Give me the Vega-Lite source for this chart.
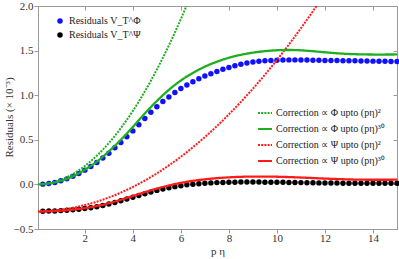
{
  "$schema": "https://vega.github.io/schema/vega-lite/v6.json",
  "width": 359,
  "height": 223,
  "autosize": {"type": "none"},
  "padding": {"left": 38, "top": 6, "right": 2, "bottom": 30},
  "background": "white",
  "config": {
    "font": "Liberation Serif",
    "view": {"stroke": "#9a9a9a"},
    "axis": {
      "labelFont": "Liberation Serif",
      "titleFont": "Liberation Serif",
      "labelFontSize": 11,
      "titleFontSize": 11,
      "titleFontWeight": "normal",
      "labelColor": "#333333",
      "titleColor": "#333333",
      "domainColor": "#9a9a9a",
      "tickColor": "#9a9a9a",
      "grid": false,
      "labelFlush": false
    },
    "legend": {"labelFont": "Liberation Serif", "labelFontSize": 10, "labelColor": "#222222", "padding": 0}
  },
  "datasets": {
    "pts": [
      {"x":0.25,"v":0.003,"s":"Residuals V_T^Φ"},{"x":0.5,"v":0.01,"s":"Residuals V_T^Φ"},{"x":0.75,"v":0.022,"s":"Residuals V_T^Φ"},{"x":1,"v":0.04,"s":"Residuals V_T^Φ"},
      {"x":1.25,"v":0.062,"s":"Residuals V_T^Φ"},{"x":1.5,"v":0.09,"s":"Residuals V_T^Φ"},{"x":1.75,"v":0.122,"s":"Residuals V_T^Φ"},{"x":2,"v":0.16,"s":"Residuals V_T^Φ"},
      {"x":2.25,"v":0.2,"s":"Residuals V_T^Φ"},{"x":2.5,"v":0.245,"s":"Residuals V_T^Φ"},{"x":2.75,"v":0.295,"s":"Residuals V_T^Φ"},{"x":3,"v":0.35,"s":"Residuals V_T^Φ"},
      {"x":3.25,"v":0.41,"s":"Residuals V_T^Φ"},{"x":3.5,"v":0.47,"s":"Residuals V_T^Φ"},{"x":3.75,"v":0.535,"s":"Residuals V_T^Φ"},{"x":4,"v":0.6,"s":"Residuals V_T^Φ"},
      {"x":4.25,"v":0.67,"s":"Residuals V_T^Φ"},{"x":4.5,"v":0.74,"s":"Residuals V_T^Φ"},{"x":4.75,"v":0.81,"s":"Residuals V_T^Φ"},{"x":5,"v":0.87,"s":"Residuals V_T^Φ"},
      {"x":5.25,"v":0.93,"s":"Residuals V_T^Φ"},{"x":5.5,"v":0.98,"s":"Residuals V_T^Φ"},{"x":5.75,"v":1.03,"s":"Residuals V_T^Φ"},{"x":6,"v":1.075,"s":"Residuals V_T^Φ"},
      {"x":6.25,"v":1.115,"s":"Residuals V_T^Φ"},{"x":6.5,"v":1.15,"s":"Residuals V_T^Φ"},{"x":6.75,"v":1.185,"s":"Residuals V_T^Φ"},{"x":7,"v":1.215,"s":"Residuals V_T^Φ"},
      {"x":7.25,"v":1.24,"s":"Residuals V_T^Φ"},{"x":7.5,"v":1.265,"s":"Residuals V_T^Φ"},{"x":7.75,"v":1.29,"s":"Residuals V_T^Φ"},{"x":8,"v":1.31,"s":"Residuals V_T^Φ"},
      {"x":8.25,"v":1.33,"s":"Residuals V_T^Φ"},{"x":8.5,"v":1.347,"s":"Residuals V_T^Φ"},{"x":8.75,"v":1.36,"s":"Residuals V_T^Φ"},{"x":9,"v":1.372,"s":"Residuals V_T^Φ"},
      {"x":9.25,"v":1.38,"s":"Residuals V_T^Φ"},{"x":9.5,"v":1.386,"s":"Residuals V_T^Φ"},{"x":9.75,"v":1.39,"s":"Residuals V_T^Φ"},{"x":10,"v":1.393,"s":"Residuals V_T^Φ"},
      {"x":10.25,"v":1.395,"s":"Residuals V_T^Φ"},{"x":10.5,"v":1.396,"s":"Residuals V_T^Φ"},{"x":10.75,"v":1.396,"s":"Residuals V_T^Φ"},{"x":11,"v":1.395,"s":"Residuals V_T^Φ"},
      {"x":11.25,"v":1.394,"s":"Residuals V_T^Φ"},{"x":11.5,"v":1.393,"s":"Residuals V_T^Φ"},{"x":11.75,"v":1.392,"s":"Residuals V_T^Φ"},{"x":12,"v":1.39,"s":"Residuals V_T^Φ"},
      {"x":12.25,"v":1.389,"s":"Residuals V_T^Φ"},{"x":12.5,"v":1.388,"s":"Residuals V_T^Φ"},{"x":12.75,"v":1.387,"s":"Residuals V_T^Φ"},{"x":13,"v":1.386,"s":"Residuals V_T^Φ"},
      {"x":13.25,"v":1.385,"s":"Residuals V_T^Φ"},{"x":13.5,"v":1.384,"s":"Residuals V_T^Φ"},{"x":13.75,"v":1.383,"s":"Residuals V_T^Φ"},{"x":14,"v":1.382,"s":"Residuals V_T^Φ"},
      {"x":14.25,"v":1.381,"s":"Residuals V_T^Φ"},{"x":14.5,"v":1.38,"s":"Residuals V_T^Φ"},{"x":14.75,"v":1.379,"s":"Residuals V_T^Φ"},{"x":15,"v":1.378,"s":"Residuals V_T^Φ"},
      {"x":0.25,"v":-0.3,"s":"Residuals V_T^Ψ"},{"x":0.5,"v":-0.299,"s":"Residuals V_T^Ψ"},{"x":0.75,"v":-0.297,"s":"Residuals V_T^Ψ"},{"x":1,"v":-0.294,"s":"Residuals V_T^Ψ"},
      {"x":1.25,"v":-0.29,"s":"Residuals V_T^Ψ"},{"x":1.5,"v":-0.285,"s":"Residuals V_T^Ψ"},{"x":1.75,"v":-0.278,"s":"Residuals V_T^Ψ"},{"x":2,"v":-0.27,"s":"Residuals V_T^Ψ"},
      {"x":2.25,"v":-0.261,"s":"Residuals V_T^Ψ"},{"x":2.5,"v":-0.25,"s":"Residuals V_T^Ψ"},{"x":2.75,"v":-0.236,"s":"Residuals V_T^Ψ"},{"x":3,"v":-0.22,"s":"Residuals V_T^Ψ"},
      {"x":3.25,"v":-0.203,"s":"Residuals V_T^Ψ"},{"x":3.5,"v":-0.184,"s":"Residuals V_T^Ψ"},{"x":3.75,"v":-0.164,"s":"Residuals V_T^Ψ"},{"x":4,"v":-0.144,"s":"Residuals V_T^Ψ"},
      {"x":4.25,"v":-0.124,"s":"Residuals V_T^Ψ"},{"x":4.5,"v":-0.104,"s":"Residuals V_T^Ψ"},{"x":4.75,"v":-0.085,"s":"Residuals V_T^Ψ"},{"x":5,"v":-0.067,"s":"Residuals V_T^Ψ"},
      {"x":5.25,"v":-0.051,"s":"Residuals V_T^Ψ"},{"x":5.5,"v":-0.037,"s":"Residuals V_T^Ψ"},{"x":5.75,"v":-0.025,"s":"Residuals V_T^Ψ"},{"x":6,"v":-0.014,"s":"Residuals V_T^Ψ"},
      {"x":6.25,"v":-0.005,"s":"Residuals V_T^Ψ"},{"x":6.5,"v":0.002,"s":"Residuals V_T^Ψ"},{"x":6.75,"v":0.008,"s":"Residuals V_T^Ψ"},{"x":7,"v":0.013,"s":"Residuals V_T^Ψ"},
      {"x":7.25,"v":0.017,"s":"Residuals V_T^Ψ"},{"x":7.5,"v":0.02,"s":"Residuals V_T^Ψ"},{"x":7.75,"v":0.022,"s":"Residuals V_T^Ψ"},{"x":8,"v":0.024,"s":"Residuals V_T^Ψ"},
      {"x":8.25,"v":0.025,"s":"Residuals V_T^Ψ"},{"x":8.5,"v":0.026,"s":"Residuals V_T^Ψ"},{"x":8.75,"v":0.026,"s":"Residuals V_T^Ψ"},{"x":9,"v":0.026,"s":"Residuals V_T^Ψ"},
      {"x":9.25,"v":0.026,"s":"Residuals V_T^Ψ"},{"x":9.5,"v":0.025,"s":"Residuals V_T^Ψ"},{"x":9.75,"v":0.025,"s":"Residuals V_T^Ψ"},{"x":10,"v":0.024,"s":"Residuals V_T^Ψ"},
      {"x":10.25,"v":0.023,"s":"Residuals V_T^Ψ"},{"x":10.5,"v":0.022,"s":"Residuals V_T^Ψ"},{"x":10.75,"v":0.021,"s":"Residuals V_T^Ψ"},{"x":11,"v":0.02,"s":"Residuals V_T^Ψ"},
      {"x":11.25,"v":0.019,"s":"Residuals V_T^Ψ"},{"x":11.5,"v":0.018,"s":"Residuals V_T^Ψ"},{"x":11.75,"v":0.017,"s":"Residuals V_T^Ψ"},{"x":12,"v":0.016,"s":"Residuals V_T^Ψ"},
      {"x":12.25,"v":0.015,"s":"Residuals V_T^Ψ"},{"x":12.5,"v":0.015,"s":"Residuals V_T^Ψ"},{"x":12.75,"v":0.014,"s":"Residuals V_T^Ψ"},{"x":13,"v":0.014,"s":"Residuals V_T^Ψ"},
      {"x":13.25,"v":0.013,"s":"Residuals V_T^Ψ"},{"x":13.5,"v":0.013,"s":"Residuals V_T^Ψ"},{"x":13.75,"v":0.013,"s":"Residuals V_T^Ψ"},{"x":14,"v":0.012,"s":"Residuals V_T^Ψ"},
      {"x":14.25,"v":0.012,"s":"Residuals V_T^Ψ"},{"x":14.5,"v":0.012,"s":"Residuals V_T^Ψ"},{"x":14.75,"v":0.012,"s":"Residuals V_T^Ψ"},{"x":15,"v":0.012,"s":"Residuals V_T^Ψ"}
    ],
    "lns": [
      {"x":0,"v":0,"s":"Correction ∝ Φ upto (pη)²"},{"x":0.25,"v":0.003,"s":"Correction ∝ Φ upto (pη)²"},{"x":0.5,"v":0.013,"s":"Correction ∝ Φ upto (pη)²"},{"x":0.75,"v":0.029,"s":"Correction ∝ Φ upto (pη)²"},
      {"x":1,"v":0.052,"s":"Correction ∝ Φ upto (pη)²"},{"x":1.25,"v":0.08,"s":"Correction ∝ Φ upto (pη)²"},{"x":1.5,"v":0.116,"s":"Correction ∝ Φ upto (pη)²"},{"x":1.75,"v":0.158,"s":"Correction ∝ Φ upto (pη)²"},
      {"x":2,"v":0.206,"s":"Correction ∝ Φ upto (pη)²"},{"x":2.25,"v":0.261,"s":"Correction ∝ Φ upto (pη)²"},{"x":2.5,"v":0.322,"s":"Correction ∝ Φ upto (pη)²"},{"x":2.75,"v":0.389,"s":"Correction ∝ Φ upto (pη)²"},
      {"x":3,"v":0.464,"s":"Correction ∝ Φ upto (pη)²"},{"x":3.25,"v":0.544,"s":"Correction ∝ Φ upto (pη)²"},{"x":3.5,"v":0.631,"s":"Correction ∝ Φ upto (pη)²"},{"x":3.75,"v":0.724,"s":"Correction ∝ Φ upto (pη)²"},
      {"x":4,"v":0.824,"s":"Correction ∝ Φ upto (pη)²"},{"x":4.25,"v":0.93,"s":"Correction ∝ Φ upto (pη)²"},{"x":4.5,"v":1.043,"s":"Correction ∝ Φ upto (pη)²"},{"x":4.75,"v":1.162,"s":"Correction ∝ Φ upto (pη)²"},
      {"x":5,"v":1.288,"s":"Correction ∝ Φ upto (pη)²"},{"x":5.25,"v":1.419,"s":"Correction ∝ Φ upto (pη)²"},{"x":5.5,"v":1.558,"s":"Correction ∝ Φ upto (pη)²"},{"x":5.75,"v":1.703,"s":"Correction ∝ Φ upto (pη)²"},
      {"x":6,"v":1.854,"s":"Correction ∝ Φ upto (pη)²"},{"x":6.25,"v":2.012,"s":"Correction ∝ Φ upto (pη)²"},{"x":6.5,"v":2.176,"s":"Correction ∝ Φ upto (pη)²"},
      {"x":0,"v":0,"s":"Correction ∝ Φ upto (pη)³⁰"},{"x":0.5,"v":0.01,"s":"Correction ∝ Φ upto (pη)³⁰"},{"x":1,"v":0.04,"s":"Correction ∝ Φ upto (pη)³⁰"},{"x":1.5,"v":0.09,"s":"Correction ∝ Φ upto (pη)³⁰"},
      {"x":2,"v":0.165,"s":"Correction ∝ Φ upto (pη)³⁰"},{"x":2.5,"v":0.255,"s":"Correction ∝ Φ upto (pη)³⁰"},{"x":3,"v":0.37,"s":"Correction ∝ Φ upto (pη)³⁰"},{"x":3.5,"v":0.5,"s":"Correction ∝ Φ upto (pη)³⁰"},
      {"x":4,"v":0.645,"s":"Correction ∝ Φ upto (pη)³⁰"},{"x":4.5,"v":0.795,"s":"Correction ∝ Φ upto (pη)³⁰"},{"x":5,"v":0.935,"s":"Correction ∝ Φ upto (pη)³⁰"},{"x":5.5,"v":1.06,"s":"Correction ∝ Φ upto (pη)³⁰"},
      {"x":6,"v":1.165,"s":"Correction ∝ Φ upto (pη)³⁰"},{"x":6.5,"v":1.25,"s":"Correction ∝ Φ upto (pη)³⁰"},{"x":7,"v":1.32,"s":"Correction ∝ Φ upto (pη)³⁰"},{"x":7.5,"v":1.375,"s":"Correction ∝ Φ upto (pη)³⁰"},
      {"x":8,"v":1.42,"s":"Correction ∝ Φ upto (pη)³⁰"},{"x":8.5,"v":1.453,"s":"Correction ∝ Φ upto (pη)³⁰"},{"x":9,"v":1.477,"s":"Correction ∝ Φ upto (pη)³⁰"},{"x":9.5,"v":1.494,"s":"Correction ∝ Φ upto (pη)³⁰"},
      {"x":10,"v":1.504,"s":"Correction ∝ Φ upto (pη)³⁰"},{"x":10.5,"v":1.507,"s":"Correction ∝ Φ upto (pη)³⁰"},{"x":11,"v":1.503,"s":"Correction ∝ Φ upto (pη)³⁰"},{"x":11.5,"v":1.493,"s":"Correction ∝ Φ upto (pη)³⁰"},
      {"x":12,"v":1.481,"s":"Correction ∝ Φ upto (pη)³⁰"},{"x":12.5,"v":1.47,"s":"Correction ∝ Φ upto (pη)³⁰"},{"x":13,"v":1.462,"s":"Correction ∝ Φ upto (pη)³⁰"},{"x":13.5,"v":1.458,"s":"Correction ∝ Φ upto (pη)³⁰"},
      {"x":14,"v":1.456,"s":"Correction ∝ Φ upto (pη)³⁰"},{"x":14.5,"v":1.456,"s":"Correction ∝ Φ upto (pη)³⁰"},{"x":15,"v":1.457,"s":"Correction ∝ Φ upto (pη)³⁰"},
      {"x":0,"v":-0.3,"s":"Correction ∝ Ψ upto (pη)²"},{"x":0.5,"v":-0.296,"s":"Correction ∝ Ψ upto (pη)²"},{"x":1,"v":-0.283,"s":"Correction ∝ Ψ upto (pη)²"},{"x":1.5,"v":-0.262,"s":"Correction ∝ Ψ upto (pη)²"},
      {"x":2,"v":-0.232,"s":"Correction ∝ Ψ upto (pη)²"},{"x":2.5,"v":-0.194,"s":"Correction ∝ Ψ upto (pη)²"},{"x":3,"v":-0.147,"s":"Correction ∝ Ψ upto (pη)²"},{"x":3.5,"v":-0.092,"s":"Correction ∝ Ψ upto (pη)²"},
      {"x":4,"v":-0.029,"s":"Correction ∝ Ψ upto (pη)²"},{"x":4.5,"v":0.043,"s":"Correction ∝ Ψ upto (pη)²"},{"x":5,"v":0.124,"s":"Correction ∝ Ψ upto (pη)²"},{"x":5.5,"v":0.213,"s":"Correction ∝ Ψ upto (pη)²"},
      {"x":6,"v":0.31,"s":"Correction ∝ Ψ upto (pη)²"},{"x":6.5,"v":0.416,"s":"Correction ∝ Ψ upto (pη)²"},{"x":7,"v":0.531,"s":"Correction ∝ Ψ upto (pη)²"},{"x":7.5,"v":0.653,"s":"Correction ∝ Ψ upto (pη)²"},
      {"x":8,"v":0.785,"s":"Correction ∝ Ψ upto (pη)²"},{"x":8.5,"v":0.925,"s":"Correction ∝ Ψ upto (pη)²"},{"x":9,"v":1.073,"s":"Correction ∝ Ψ upto (pη)²"},{"x":9.5,"v":1.23,"s":"Correction ∝ Ψ upto (pη)²"},
      {"x":10,"v":1.395,"s":"Correction ∝ Ψ upto (pη)²"},{"x":10.5,"v":1.569,"s":"Correction ∝ Ψ upto (pη)²"},{"x":11,"v":1.751,"s":"Correction ∝ Ψ upto (pη)²"},{"x":11.5,"v":1.942,"s":"Correction ∝ Ψ upto (pη)²"},
      {"x":12,"v":2.141,"s":"Correction ∝ Ψ upto (pη)²"},
      {"x":0,"v":-0.305,"s":"Correction ∝ Ψ upto (pη)³⁰"},{"x":0.5,"v":-0.302,"s":"Correction ∝ Ψ upto (pη)³⁰"},{"x":1,"v":-0.295,"s":"Correction ∝ Ψ upto (pη)³⁰"},{"x":1.5,"v":-0.283,"s":"Correction ∝ Ψ upto (pη)³⁰"},
      {"x":2,"v":-0.266,"s":"Correction ∝ Ψ upto (pη)³⁰"},{"x":2.5,"v":-0.242,"s":"Correction ∝ Ψ upto (pη)³⁰"},{"x":3,"v":-0.21,"s":"Correction ∝ Ψ upto (pη)³⁰"},{"x":3.5,"v":-0.172,"s":"Correction ∝ Ψ upto (pη)³⁰"},
      {"x":4,"v":-0.13,"s":"Correction ∝ Ψ upto (pη)³⁰"},{"x":4.5,"v":-0.087,"s":"Correction ∝ Ψ upto (pη)³⁰"},{"x":5,"v":-0.047,"s":"Correction ∝ Ψ upto (pη)³⁰"},{"x":5.5,"v":-0.012,"s":"Correction ∝ Ψ upto (pη)³⁰"},
      {"x":6,"v":0.017,"s":"Correction ∝ Ψ upto (pη)³⁰"},{"x":6.5,"v":0.04,"s":"Correction ∝ Ψ upto (pη)³⁰"},{"x":7,"v":0.057,"s":"Correction ∝ Ψ upto (pη)³⁰"},{"x":7.5,"v":0.07,"s":"Correction ∝ Ψ upto (pη)³⁰"},
      {"x":8,"v":0.079,"s":"Correction ∝ Ψ upto (pη)³⁰"},{"x":8.5,"v":0.085,"s":"Correction ∝ Ψ upto (pη)³⁰"},{"x":9,"v":0.088,"s":"Correction ∝ Ψ upto (pη)³⁰"},{"x":9.5,"v":0.088,"s":"Correction ∝ Ψ upto (pη)³⁰"},
      {"x":10,"v":0.086,"s":"Correction ∝ Ψ upto (pη)³⁰"},{"x":10.5,"v":0.082,"s":"Correction ∝ Ψ upto (pη)³⁰"},{"x":11,"v":0.077,"s":"Correction ∝ Ψ upto (pη)³⁰"},{"x":11.5,"v":0.071,"s":"Correction ∝ Ψ upto (pη)³⁰"},
      {"x":12,"v":0.065,"s":"Correction ∝ Ψ upto (pη)³⁰"},{"x":12.5,"v":0.06,"s":"Correction ∝ Ψ upto (pη)³⁰"},{"x":13,"v":0.056,"s":"Correction ∝ Ψ upto (pη)³⁰"},{"x":13.5,"v":0.053,"s":"Correction ∝ Ψ upto (pη)³⁰"},
      {"x":14,"v":0.052,"s":"Correction ∝ Ψ upto (pη)³⁰"},{"x":14.5,"v":0.052,"s":"Correction ∝ Ψ upto (pη)³⁰"},{"x":15,"v":0.053,"s":"Correction ∝ Ψ upto (pη)³⁰"}
    ]
  },
  "layer": [
    {
      "layer": [
        {
          "data": {"name": "pts"},
          "mark": {"type": "point", "filled": true, "size": 30, "opacity": 1},
          "encoding": {
            "x": {"field": "x", "type": "quantitative", "scale": {"domain": [0.05, 15], "nice": false, "zero": false},
              "axis": {"title": "p η", "values": [2,4,6,8,10,12,14], "tickSize": 4, "labelPadding": -1, "titlePadding": 2}},
            "y": {"field": "v", "type": "quantitative", "scale": {"domain": [-0.5, 2], "nice": false, "zero": false},
              "axis": {"title": "Residuals (× 10⁻³)", "values": [-0.5,0,0.5,1,1.5,2], "format": ".1f", "tickSize": 4,
                "labelPadding": 1, "titleX": -29, "titleY": 111, "titleBaseline": "middle", "titleAlign": "center", "titleAngle": -90}},
            "color": {"field": "s", "type": "nominal",
              "scale": {"domain": ["Residuals V_T^Φ", "Residuals V_T^Ψ"], "range": ["#1010ff", "#000000"]},
              "legend": {"orient": "none", "legendX": 17, "legendY": 10, "title": null, "symbolType": "circle", "symbolSize": 30, "rowPadding": 4, "labelOffset": 4, "symbolStrokeWidth": 0}}
          }
        },
        {
          "data": {"name": "lns"},
          "encoding": {
            "x": {"field": "x", "type": "quantitative"},
            "y": {"field": "v", "type": "quantitative"},
            "color": {"field": "s", "type": "nominal",
              "scale": {"domain": ["Correction ∝ Φ upto (pη)²", "Correction ∝ Φ upto (pη)³⁰", "Correction ∝ Ψ upto (pη)²", "Correction ∝ Ψ upto (pη)³⁰"],
                "range": ["#1fae1f", "#1fae1f", "#ff1a1a", "#ff1a1a"]},
              "legend": null},
            "strokeDash": {"field": "s", "type": "nominal",
              "scale": {"domain": ["Correction ∝ Φ upto (pη)²", "Correction ∝ Φ upto (pη)³⁰", "Correction ∝ Ψ upto (pη)²", "Correction ∝ Ψ upto (pη)³⁰"],
                "range": [[2, 1.2], [1, 0], [2, 1.2], [1, 0]]},
              "legend": {"orient": "none", "legendX": 219, "legendY": 99, "title": null, "symbolType": "stroke", "symbolSize": 196, "symbolStrokeWidth": 2, "rowPadding": 3, "labelOffset": 3,
                "encode": {"symbols": {"update": {"stroke": {"signal": "indexof(datum.value, 'Φ') >= 0 ? '#1fae1f' : '#ff1a1a'"}, "strokeWidth": {"value": 2}}}}}}
          },
          "layer": [
            {
              "transform": [{"filter": "indexof(datum.s, '²') >= 0"}],
              "mark": {"type": "line", "strokeWidth": 2, "interpolate": "monotone", "clip": true}
            },
            {
              "transform": [{"filter": "indexof(datum.s, '²') < 0"}],
              "mark": {"type": "line", "strokeWidth": 2.3, "interpolate": "monotone", "clip": true}
            }
          ]
        }
      ],
      "resolve": {"scale": {"color": "independent"}}
    },
    {
      "data": {"name": "pts"},
      "mark": {"type": "point", "opacity": 0},
      "encoding": {
        "x": {"field": "x", "type": "quantitative",
          "axis": {"orient": "top", "title": null, "labels": false, "domain": false, "values": [2,4,6,8,10,12,14], "tickSize": 4, "offset": -4}},
        "y": {"field": "v", "type": "quantitative",
          "axis": {"orient": "right", "title": null, "labels": false, "domain": false, "values": [-0.5,0,0.5,1,1.5,2], "tickSize": 4, "offset": -4}}
      }
    }
  ],
  "resolve": {"axis": {"x": "independent", "y": "independent"}}
}
